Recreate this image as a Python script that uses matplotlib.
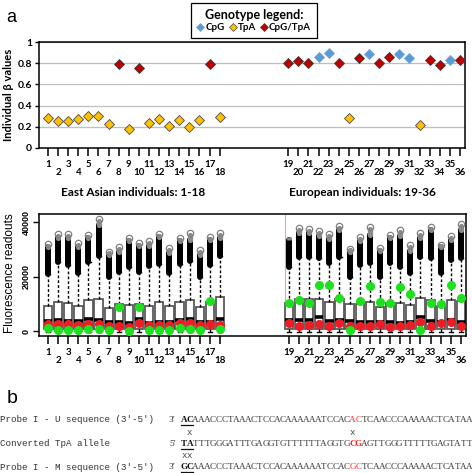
import matplotlib
matplotlib.use('Agg')
import matplotlib.pyplot as plt
from matplotlib.lines import Line2D
import numpy as np

# ---------------- data ----------------
individuals = list(range(1, 37))
tick_labels = [str(i) for i in range(1, 30)] + ['39'] + [str(i) for i in range(31, 37)]

beta = [0.285, 0.256, 0.256, 0.272, 0.300, 0.300, 0.228, 0.790, 0.177, 0.760,
        0.231, 0.272, 0.206, 0.260, 0.196, 0.266, 0.797, 0.288,
        0.807, 0.823, 0.807, 0.864, 0.902, 0.807, 0.278, 0.848, 0.889, 0.800,
        0.864, 0.889, 0.854, 0.215, 0.835, 0.780, 0.832, 0.835]
genotype = ['TpA'] * 7 + ['CpG/TpA', 'TpA', 'CpG/TpA'] + ['TpA'] * 6 + ['CpG/TpA', 'TpA'] + \
           ['CpG/TpA', 'CpG/TpA', 'CpG/TpA', 'CpG', 'CpG', 'CpG/TpA', 'TpA', 'CpG/TpA', 'CpG',
            'CpG/TpA', 'CpG/TpA', 'CpG', 'CpG', 'TpA', 'CpG/TpA', 'CpG/TpA', 'CpG', 'CpG/TpA']
genotype_names = ['CpG', 'TpA', 'CpG/TpA']

# box-plot summaries of fluorescence readouts
box_q1 = [900, 850, 850, 900, 900, 850, 900, 800, 700, 800, 800, 850, 850, 900, 850, 800, 800, 900,
          900, 850, 850, 850, 800, 900, 800, 800, 850, 900, 750, 800, 850, 900, 800, 900, 900, 850]
box_med = [3700, 3900, 3700, 3600, 4400, 3900, 3400, 3300, 3000, 4300, 3000, 3400, 3300, 4200, 4300, 3400, 3500, 4500,
           3900, 4200, 4000, 5000, 3600, 4000, 3800, 3400, 3400, 3300, 3400, 3000, 3400, 5000, 3700, 3400, 4200, 3400]
box_q3 = [9300, 10760, 10500, 9300, 11370, 11740, 8600, 9900, 9700, 9900, 9300, 10640, 9300, 10760, 11400, 8930, 10760, 12400,
          10500, 11620, 11620, 11620, 10760, 11620, 9800, 9800, 10760, 8680, 10300, 10150, 9560, 12000, 11370, 9300, 11250, 11000]
whisker_low = [-300, -300, -300, -300, -300, -300, -300, -500, -400, -500, -300, -300, -300, -300, -300, -300, -500, -300,
               -300, -300, -300, -300, -300, -300, -300, -300, -300, -300, -300, -300, -300, -300, -300, -300, -300, -300]
outlier_low = [21000, 25400, 24200, 21300, 25500, 27400, 19900, 21800, 23400, 21600, 23800, 24500, 21200, 24500, 25800, 19900, 24400, 27500,
               23600, 27300, 27300, 26700, 24900, 27300, 19900, 24200, 24900, 19900, 24900, 23700, 21200, 27300, 27000, 21200, 26000, 27000]
outlier_high = [31000, 34300, 34300, 30900, 34200, 39000, 27900, 29200, 33100, 31100, 31200, 34600, 28700, 33000, 33400, 28100, 33400, 34300,
                33400, 36100, 36100, 34800, 33900, 37300, 29000, 33200, 35200, 29300, 34200, 34900, 29500, 34200, 37300, 30900, 33600, 37100]
outlier_top = [31900, 35800, 35800, 32300, 35300, 41300, 29200, 30700, 34300, 32300, 33000, 35800, 30500, 34100, 36000, 29800, 34400, 36100,
               None, 37700, 37600, 36900, 35600, 38600, 30300, 34700, 38300, 30400, 35400, 37000, 31700, 35900, 38200, 31800, 35000, 39150]
red_values = [2600, 2450, 2450, 2300, 2560, 2450, 2000, 1900, 1600, 2800, 2200, 2200, 2200, 3000, 2800, 2300, 2700, 2200,
              2800, 2000, 2300, 2450, 1860, 2800, 2000, 1860, 1700, 2440, 1470, 2000, 2200, 3180, 2000, 2810, 3180, 2000]
green_values = [1000, 550, 550, 550, 800, 800, 550, 8900, 150, 8900, 370, 550, 550, 980, 600, 370, 11150, 730,
                10500, 11370, 10150, 17100, 17100, 12000, 370, 11000, 16600, 10760, 10400, 16100, 13800, 370, 10400, 10030, 17000, 12000]

probe_u = ['AC', 'AAACCCTAAACTCCACAAAAAATCCAC', 'AC', 'TCAACCCAAAAACTCATAA']
tpa_allele = ['TA', 'TTTGGGATTTGAGGTGTTTTTTAGGTG', 'CG', 'AGTTGGGTTTTTGAGTATT']
probe_m = ['GC', 'AAACCCTAAACTCCACAAAAAATCCAC', 'GC', 'TCAACCCAAAAACTCATAA']

# ---------------- layout ----------------
W, H = 472, 473
fig = plt.figure(figsize=(W / 100, H / 100), dpi=100)
GAP = 5.8


def pos(i):
    return i if i <= 18 else i + GAP


xs = [pos(i) for i in individuals]


def px_axes(l, t, r, b):
    return fig.add_axes([l / W, 1 - b / H, (r - l) / W, (b - t) / H])


bold_font = ['Lato', 'DejaVu Sans']
colors = {'CpG': '#5B9BD5', 'TpA': '#FFC000', 'CpG/TpA': '#C00000'}
edges = {'CpG': '#6FA5D8', 'TpA': '#4A4A4A', 'CpG/TpA': '#3A3A3A'}


def style_xticks(ax):
    ax.set_xticks(xs)
    labs = [lab if k % 2 == 0 else '\n' + lab for k, lab in enumerate(tick_labels)]
    ax.set_xticklabels(labs, fontsize=7, fontweight='bold', family=bold_font)
    for t in ax.get_xticklabels():
        t.set_linespacing(0.95)
    ax.tick_params(axis='x', length=6, width=1.1, pad=2.5, color='black')
    ax.set_xlim(0.11, 42.3)


# ---------- panel a: beta values ----------
ax1 = px_axes(39, 42.3, 465, 147.7)
for g in genotype_names:
    gx = [x for x, gg in zip(xs, genotype) if gg == g]
    gy = [b for b, gg in zip(beta, genotype) if gg == g]
    ax1.plot(gx, gy, 'D', ls='none', ms=4.8, mfc=colors[g], mec=edges[g], mew=0.6, zorder=3)
ax1.set_ylim(0, 1)
ax1.set_yticks([0, 0.2, 0.4, 0.6, 0.8, 1.0])
ax1.set_yticklabels(['0', '0.2', '0.4', '0.6', '0.8', '1'], fontsize=7.5, fontweight='bold', family=bold_font)
ax1.tick_params(axis='y', length=3, width=1, pad=2)
ax1.yaxis.grid(True, color='#BFBFBF', lw=0.9)
ax1.set_axisbelow(True)
style_xticks(ax1)
for s in ax1.spines.values():
    s.set_linewidth(1.1)

fig.text(9 / W, 1 - 95 / H, 'Individual β values', rotation=90, ha='center', va='center',
         fontsize=8, fontweight='bold', family=bold_font)

handles = [Line2D([], [], marker='D', ls='none', ms=4.2, mfc=colors[g], mec=edges[g], mew=0.5)
           for g in genotype_names]
leg = fig.legend(handles, genotype_names, ncol=3, loc='center', bbox_to_anchor=(254 / W, 1 - 20.5 / H),
                 title='Genotype legend:',
                 title_fontproperties={'weight': 'bold', 'size': 9, 'family': bold_font},
                 prop={'weight': 'bold', 'size': 7, 'family': bold_font},
                 frameon=True, fancybox=False, edgecolor='black', framealpha=1,
                 handlelength=0.7, handletextpad=0.15, columnspacing=0.5, borderpad=0.6,
                 labelspacing=0.2)
leg.get_frame().set_linewidth(0.9)

fig.text(11 / W, 1 - 17 / H, 'a', fontsize=13, ha='center', va='center', family='Liberation Sans')

fig.text(133 / W, 1 - 193 / H, 'East Asian individuals: 1-18', ha='center', va='center',
         fontsize=8.5, fontweight='bold', family=bold_font)
fig.text(362 / W, 1 - 193 / H, 'European individuals: 19-36', ha='center', va='center',
         fontsize=8.5, fontweight='bold', family=bold_font)

# ---------- panel a: fluorescence box plots ----------
ax2 = px_axes(39, 214, 466, 336)
stats = [dict(med=m, q1=a, q3=b, whislo=lo, whishi=hi, fliers=[])
         for m, a, b, lo, hi in zip(box_med, box_q1, box_q3, whisker_low, outlier_low)]
ax2.bxp(stats, positions=xs, widths=0.82, patch_artist=True, showfliers=False,
        boxprops=dict(facecolor='white', edgecolor='#5a5a5a', lw=1.3),
        medianprops=dict(color='black', lw=2.6),
        whiskerprops=dict(color='black', lw=1.0, ls=(0, (2, 1.5))),
        capprops=dict(color='black', lw=1.0), capwidths=0.4, manage_ticks=False)

# dense outlier columns
col = ax2.vlines(xs, outlier_low, outlier_high, color='black', lw=4.3, zorder=3)
col.set_capstyle('round')
for x, hi, top in zip(xs, outlier_high, outlier_top):
    if top is None:
        ax2.vlines([x], [hi], [hi + 1200], color='#8a8a8a', lw=3.5, zorder=3)
        continue
    fade = ax2.vlines([x], [hi], [top - 700], color='#8a8a8a', lw=3.8, zorder=3)
    fade.set_capstyle('round')
    ax2.plot([x], [top], 'o', ms=4.6, mfc='none', mec='#808080', mew=0.9, zorder=4)

ax2.vlines([pos(19) - 0.43], [box_q3[18]], [43000], color='#F4A582', lw=0.8, zorder=1)

ax2.plot(xs, red_values, 'o', ls='none', ms=5.5, color='#EE1C25', zorder=5)
ax2.plot(xs, green_values, 'o', ls='none', ms=5.5, color='#1EE01E', zorder=5)

ax2.set_ylim(-1800, 43000)
ax2.set_yticks([0, 20000, 40000])
ax2.set_yticklabels(['0', '20000', '40000'], rotation=90, va='center', fontsize=6.5,
                    fontweight='bold', family='Liberation Sans')
ax2.tick_params(axis='y', length=4, width=1, pad=2)
style_xticks(ax2)
for s in ax2.spines.values():
    s.set_linewidth(1.1)

fig.text(10 / W, 1 - 273 / H, 'Fluorescence readouts', rotation=90, ha='center', va='center',
         fontsize=8.5, family='Liberation Sans')

# ---------- panel b: sequences ----------
fig.text(12 / W, 1 - 398 / H, 'b', fontsize=14, ha='center', va='center', family='Liberation Sans')

row_y = [420, 443.5, 467]
row_labels = ["Probe I - U sequence (3\u2032-5\u2032)", "Converted TpA allele",
              "Probe I - M sequence (3\u2032-5\u2032)"]
row_prefix = ["3\u2032", "5\u2032", "3\u2032"]
rows = [probe_u, tpa_allele, probe_m]
SEQ_X0, SEQ_DX = 181.0, 5.82
txt_color = '#333333'

for y, lab, pre, segs, ridx in zip(row_y, row_labels, row_prefix, rows, range(3)):
    fig.text(0, 1 - y / H, lab, ha='left', va='center', fontsize=6.6,
             family='Liberation Mono', color=txt_color)
    fig.text(169 / W, 1 - y / H, pre, ha='left', va='center', fontsize=6.8,
             family='Liberation Serif', color=txt_color)
    k = 0
    for si, seg in enumerate(segs):
        for ch in seg:
            cx = SEQ_X0 + SEQ_DX * (k + 0.5)
            color = txt_color
            weight = 'normal'
            if si == 0:
                weight = 'bold'
                color = '#111111'
            if si == 2:
                color = '#FF2020'
                if ridx == 1:
                    weight = 'bold'
            fig.text(cx / W, 1 - y / H, ch, ha='center', va='center', fontsize=6.6,
                     family='Liberation Serif', color=color, fontweight=weight)
            k += 1
    # underline first pair
    fig.add_artist(Line2D([SEQ_X0 / W, (SEQ_X0 + 2 * SEQ_DX) / W],
                          [1 - (y + 5) / H, 1 - (y + 5) / H], color='#111111', lw=0.9))

x_marks = [(1, 432), (29, 432), (0, 455), (1, 455)]
for k, y in x_marks:
    cx = SEQ_X0 + SEQ_DX * (k + 0.5)
    fig.text(cx / W, 1 - y / H, 'x', ha='center', va='center', fontsize=6.5,
             family='Liberation Mono', color='#444444')

fig.savefig('out.png', dpi=100)
